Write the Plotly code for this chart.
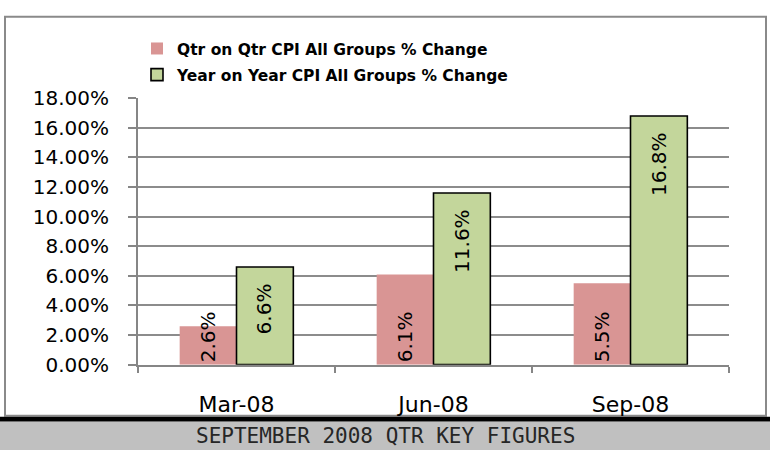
import plotly.graph_objects as go

categories = ["Mar-08", "Jun-08", "Sep-08"]
qtr_values = [0.026, 0.061, 0.055]
year_values = [0.066, 0.116, 0.168]
series_names = ["Qtr on Qtr CPI All Groups % Change", "Year on Year CPI All Groups % Change"]
y_ticks = [0.0, 0.02, 0.04, 0.06, 0.08, 0.10, 0.12, 0.14, 0.16, 0.18]
footer_text = "SEPTEMBER 2008 QTR KEY FIGURES"

W, H = 770, 462
PINK = "#d99594"
GREEN = "#c3d69b"
GRID = "#8c8c8c"
BARGAP = 0.423

fig = go.Figure()
fig.add_trace(go.Bar(
    x=categories, y=qtr_values, name=series_names[0],
    marker=dict(color=PINK, line=dict(width=0)),
    legendgroup="a", hoverinfo="skip",
))
fig.add_trace(go.Bar(
    x=categories, y=year_values, name=series_names[1],
    marker=dict(color=GREEN, line=dict(width=1.6, color="black")),
    legendgroup="b", hoverinfo="skip",
))

annotations = []
off = (1 - BARGAP) / 4
for i, (q, yv) in enumerate(zip(qtr_values, year_values)):
    annotations.append(dict(
        x=i - off, y=0, xref="x", yref="y", text=f"{q*100:.1f}%",
        textangle=-90, showarrow=False, xanchor="center", yanchor="bottom",
        yshift=0, font=dict(family="DejaVu Sans", size=20, color="black"),
    ))
    annotations.append(dict(
        x=i + off, y=yv, xref="x", yref="y", text=f"{yv*100:.1f}%",
        textangle=-90, showarrow=False, xanchor="center", yanchor="top",
        yshift=-14, font=dict(family="DejaVu Sans", size=20, color="black"),
    ))

annotations.append(dict(
    x=0.5, y=(H - 447) / H, xref="paper", yref="paper", text=footer_text,
    showarrow=False, xanchor="center", yanchor="middle",
    font=dict(family="DejaVu Sans Mono", size=21, color="#262626"),
))

shapes = [
    # chart border
    dict(type="rect", xref="paper", yref="paper",
         x0=5 / W, x1=766 / W, y0=(H - 426) / H, y1=(H - 5) / H,
         line=dict(color="#8a8a8a", width=2), fillcolor="rgba(0,0,0,0)", layer="below"),
    # grey footer band
    dict(type="rect", xref="paper", yref="paper",
         x0=0, x1=1, y0=0, y1=(H - 432) / H,
         line=dict(width=0), fillcolor="#c0c0c0", layer="below"),
    # black rule above band
    dict(type="rect", xref="paper", yref="paper",
         x0=0, x1=1, y0=(H - 432) / H, y1=(H - 427) / H,
         line=dict(width=0), fillcolor="black", layer="below"),
]

fig.update_layout(
    width=W, height=H,
    margin=dict(l=0, r=0, t=0, b=0),
    paper_bgcolor="white", plot_bgcolor="white",
    barmode="group", bargap=BARGAP, bargroupgap=0,
    showlegend=True,
    legend=dict(
        x=137 / W, y=1 - 21 / H, xanchor="left", yanchor="top",
        orientation="v", traceorder="grouped", tracegroupgap=3,
        font=dict(family="DejaVu Sans", size=15.5, color="black", weight="bold"),
        bgcolor="rgba(0,0,0,0)", itemclick=False, itemdoubleclick=False,
    ),
    xaxis=dict(
        domain=[138 / W, 729 / W], type="category",
        tickson="boundaries", ticks="outside", ticklen=6, tickwidth=1.5, tickcolor="#868686",
        showline=True, linecolor="#868686", linewidth=2,
        showgrid=False, ticklabelstandoff=19,
        tickfont=dict(family="DejaVu Sans", size=22, color="black"),
        fixedrange=True,
    ),
    yaxis=dict(
        domain=[(H - 372) / H, (H - 91) / H], range=[0, 0.18],
        tickmode="array", tickvals=y_ticks, tickformat=".2%",
        ticks="outside", ticklen=8, tickwidth=1.5, tickcolor="#868686",
        showline=True, linecolor="#868686", linewidth=2,
        showgrid=True, gridcolor=GRID, gridwidth=1.5, zeroline=False,
        ticklabelstandoff=15,
        tickfont=dict(family="DejaVu Sans", size=20, color="black"),
        fixedrange=True,
    ),
    annotations=annotations,
    shapes=shapes,
)

fig.write_html(
    "out.html",
    config={"displayModeBar": False},
    post_script="document.body.style.margin='0';document.body.style.overflow='hidden';",
)
